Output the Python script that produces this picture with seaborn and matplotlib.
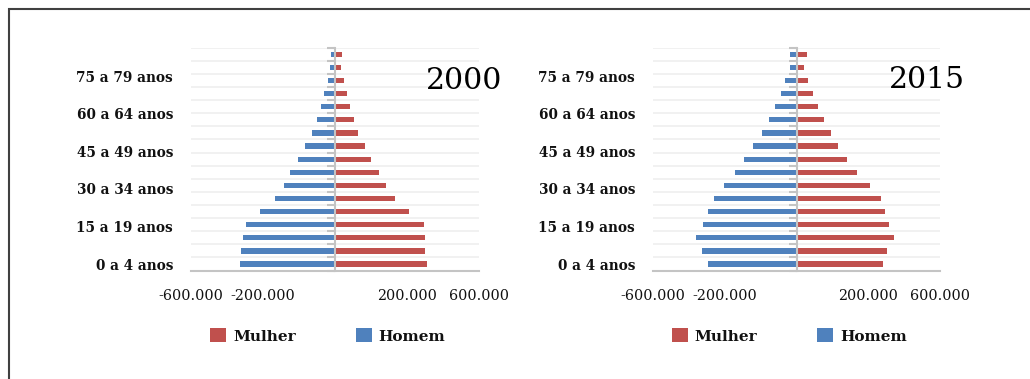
import matplotlib
matplotlib.use("Agg")
import matplotlib.pyplot as plt
from matplotlib.patches import Patch, Rectangle
import seaborn as sns
import pandas as pd
import numpy as np

# ---- data (bottom age group first) ----
age_groups = ["0 a 4 anos", "5 a 9 anos", "10 a 14 anos", "15 a 19 anos", "20 a 24 anos",
              "25 a 29 anos", "30 a 34 anos", "35 a 39 anos", "40 a 44 anos", "45 a 49 anos",
              "50 a 54 anos", "55 a 59 anos", "60 a 64 anos", "65 a 69 anos", "70 a 74 anos",
              "75 a 79 anos", "80 anos ou mais"]
shown_labels = ["0 a 4 anos", "15 a 19 anos", "30 a 34 anos", "45 a 49 anos",
                "60 a 64 anos", "75 a 79 anos"]

homem_2000 = [395000, 391000, 383000, 370000, 312000, 249000, 212000, 187000, 153000,
              124000, 95000, 74000, 57000, 45000, 28000, 19500, 15000]
mulher_2000 = [385000, 377000, 377000, 369000, 310000, 252000, 214000, 185000, 152000,
               127000, 97000, 81000, 64000, 52000, 39000, 26000, 31000]
homem_2015 = [372000, 397000, 422000, 393000, 372000, 347000, 305000, 259000, 221000,
              180000, 146000, 117000, 88000, 63000, 46000, 29000, 29000]
mulher_2015 = [363000, 380000, 409000, 388000, 372000, 355000, 309000, 255000, 213000,
               175000, 146000, 117000, 88000, 71000, 50000, 33000, 42000]

years = ["2000", "2015"]
xticks = [-600000, -300000, 0, 300000, 600000]
xtick_labels = ["-600.000", "-200.000", "", "200.000", "600.000"]
series_names = ["Mulher", "Homem"]
colors = {"Mulher": "#C0504D", "Homem": "#4F81BD"}

sns.set_style("white")
plt.rcParams["font.family"] = ["DejaVu Serif"]
plt.rcParams["text.color"] = "#111111"
plt.rcParams["xtick.labelcolor"] = "#111111"
plt.rcParams["ytick.labelcolor"] = "#111111"

fig = plt.figure(figsize=(10.30, 3.79), dpi=100)
W, H = 1030, 379

def make_df(hom, mul):
    rows = []
    for a, h, m in zip(age_groups, hom, mul):
        rows.append({"idade": a, "sexo": "Mulher", "pop": m})
        rows.append({"idade": a, "sexo": "Homem", "pop": -h})
    return pd.DataFrame(rows)

axes_px = [(191, 479), (653, 940)]
top_px, bot_px = 47.7, 270.6
data_sets = [(homem_2000, mulher_2000), (homem_2015, mulher_2015)]
year_pos = [(0.950, 0.851), (0.953, 0.855)]
order = age_groups[::-1]
grid_c = "#efefef"
axis_c = "#c4c4c4"
label_step = 0.954  # category labels are spaced slightly tighter than the bars

for i, (hom, mul) in enumerate(data_sets):
    x0, x1 = axes_px[i]
    ax = fig.add_axes([x0 / W, 1 - bot_px / H, (x1 - x0) / W, (bot_px - top_px) / H])
    df = make_df(hom, mul)
    sns.barplot(data=df, y="idade", x="pop", hue="sexo", order=order,
                hue_order=series_names, palette=colors, dodge=False, width=0.4,
                orient="h", linewidth=0, saturation=1, ax=ax, legend=False, zorder=3)
    n = len(order)
    ax.set_ylim(n - 0.5, -0.5)
    ax.set_xlim(-600000, 600000)
    ax.set_xticks(xticks)
    ax.set_xticklabels(xtick_labels, fontsize=10.3)
    lab_pos = [(n - 1) - age_groups.index(a) * label_step for a in shown_labels]
    ax.set_yticks(lab_pos)
    ax.set_yticklabels(shown_labels, fontsize=9.8, fontweight="bold")
    ax.set_xlabel("")
    ax.set_ylabel("")
    ax.tick_params(axis="y", which="major", length=0, pad=13)
    ax.tick_params(axis="y", which="minor", length=0)
    ax.tick_params(axis="x", length=6, width=1.5, color=axis_c, direction="out", pad=7)
    ax.set_yticks(np.arange(-0.5, n, 1.0), minor=True)
    ax.grid(False)
    ax.grid(True, which="minor", axis="y", color=grid_c, lw=1.2, zorder=0)
    for s in ["top", "right", "left"]:
        ax.spines[s].set_visible(False)
    ax.spines["bottom"].set_color(axis_c)
    ax.spines["bottom"].set_linewidth(1.5)
    # central vertical axis with small tick marks at category boundaries
    sec = ax.secondary_yaxis(0.5)
    sec.set_zorder(5)
    sec.yaxis.set_ticks_position("left")
    sec.set_yticks(np.arange(-0.5, n, 1.0))
    sec.set_yticklabels([])
    sec.tick_params(axis="y", length=6, width=1.5, color=axis_c,
                    labelleft=False, labelright=False)
    for sp in sec.spines.values():
        sp.set_color(axis_c)
        sp.set_linewidth(1.5)
    ax.text(year_pos[i][0], year_pos[i][1], years[i], transform=ax.transAxes,
            ha="center", va="center", fontsize=21.5, color="black")
    handles = [Patch(facecolor=colors[s], edgecolor="none", label=s) for s in series_names]
    leg = ax.legend(handles=handles, loc="center", bbox_to_anchor=(0.475, -0.293),
                    ncol=2, frameon=False, handlelength=1.05, handleheight=1.05,
                    handletextpad=0.45, columnspacing=3.9,
                    prop={"weight": "bold", "size": 11})

# outer frame of the chart area
fig.add_artist(Rectangle((9 / W, -0.5), 2.0, 1.5 - 9 / H, transform=fig.transFigure,
                         fill=False, edgecolor="#404040", lw=1.5))

fig.savefig("out.png", dpi=100, facecolor="white")
